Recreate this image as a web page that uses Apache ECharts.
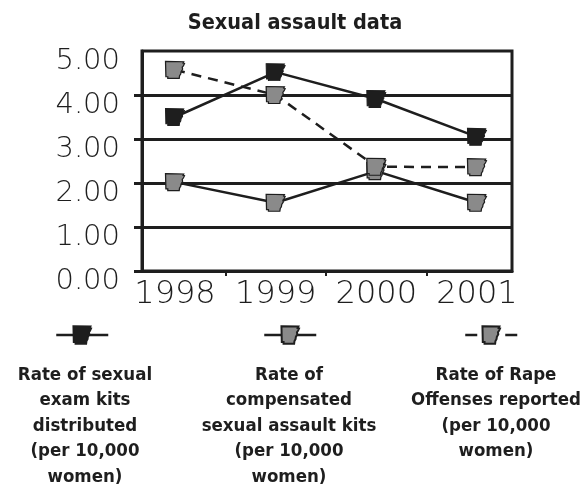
<!DOCTYPE html>
<html>
<head>
<meta charset="utf-8">
<script src="https://cdn.jsdelivr.net/npm/echarts@6/dist/echarts.min.js"></script>
<style>
  html, body { margin: 0; padding: 0; background: #fff; }
  #chart { width: 581px; height: 485px; }
</style>
</head>
<body>
<div id="chart"></div>
<script>
// 数据
var years = [1998, 1999, 2000, 2001];
var examKits = [3.50, 4.52, 3.91, 3.05];
var compensatedKits = [2.02, 1.55, 2.27, 1.55];
var rapeOffenses = [4.57, 4.00, 2.37, 2.36];
var yTicks = [0, 1, 2, 3, 4];
var xTicks = [1998.5, 1999.5, 2000.5];

var seriesNames = [
    'Rate of sexual\nexam kits\ndistributed\n(per 10,000\nwomen)',
    'Rate of\ncompensated\nsexual assault kits\n(per 10,000\nwomen)',
    'Rate of Rape\nOffenses reported\n(per 10,000\nwomen)'
];

function pairs(vals) {
    var out = [];
    for (var i = 0; i < years.length; i++) {
        out.push([years[i], vals[i]]);
    }
    return out;
}

// arkansas-ish marker
var arkansas = 'path://M0,0L96,2L92,10L100,12L94,26L88,34L90,46L82,60L80,74L74,84L72,100L12,100L12,90L2,90Z';
var ink = '#1e1e1e';
var grey = '#8a8a8a';
var boldFont = "'Liberation Sans Narrow', 'DejaVu Sans Condensed', sans-serif";
var thinFont = "'DejaVu Sans', sans-serif";

var chart = echarts.init(document.getElementById('chart'));

var legendCenters = [80, 284, 491];
var titles = [{
    text: 'Sexual assault data',
    left: 290,
    top: 7,
    textAlign: 'center',
    textStyle: { fontFamily: boldFont, fontWeight: 'bold', fontSize: 21.5, color: ink }
}];
for (var k = 0; k < 3; k++) {
    titles.push({
        text: seriesNames[k],
        left: legendCenters[k],
        top: 357,
        textAlign: 'center',
        textStyle: { fontFamily: boldFont, fontWeight: 'bold', fontSize: 18.5, lineHeight: 25.5, color: ink }
    });
}

var legendCentersIcon = [81, 289, 490];
var legends = [];
for (var j = 0; j < 3; j++) {
    legends.push({
        data: [seriesNames[j]],
        left: legendCentersIcon[j] - 26,
        top: 324,
        itemWidth: 52,
        itemHeight: 22,
        padding: 0,
        selectedMode: false,
        formatter: function () { return ''; },
        lineStyle: { color: ink, width: 2.5, type: j === 2 ? [12, 28] : 'solid' }
    });
}

chart.setOption({
    animation: false,
    title: titles,
    legend: legends,
    grid: {
        left: 142, right: 69, top: 51, bottom: 214,
        show: true, borderColor: ink, borderWidth: 3
    },
    xAxis: {
        type: 'value',
        min: 1997.672,
        max: 2001.348,
        axisLine: { show: true, lineStyle: { color: ink, width: 3 } },
        axisTick: { show: true, customValues: xTicks, length: 5, lineStyle: { color: ink, width: 2 } },
        axisLabel: {
            customValues: years,
            formatter: function (v) { return String(v); },
            fontFamily: thinFont, fontWeight: 200, fontSize: 32, color: ink, margin: 8
        },
        splitLine: { show: false }
    },
    yAxis: {
        type: 'value',
        min: 0,
        max: 5,
        interval: 1,
        axisLine: { show: true, lineStyle: { color: ink, width: 3 } },
        axisTick: { show: true, customValues: yTicks, length: 8, lineStyle: { color: ink, width: 3 } },
        axisLabel: {
            formatter: function (v) { return v.toFixed(2); },
            fontFamily: thinFont, fontWeight: 200, fontSize: 29, color: ink,
            margin: 22, verticalAlign: 'top', lineHeight: 20
        },
        splitLine: { show: true, lineStyle: { color: ink, width: 3 } }
    },
    series: [
        {
            name: seriesNames[0],
            type: 'line',
            data: pairs(examKits),
            symbol: arkansas,
            symbolSize: [19, 17],
            lineStyle: { color: ink, width: 2.5 },
            itemStyle: { color: ink, borderColor: ink, borderWidth: 1 },
            z: 3
        },
        {
            name: seriesNames[1],
            type: 'line',
            data: pairs(compensatedKits),
            symbol: arkansas,
            symbolSize: [19, 17],
            lineStyle: { color: ink, width: 2.5 },
            itemStyle: { color: grey, borderColor: ink, borderWidth: 1.2 },
            z: 4
        },
        {
            name: seriesNames[2],
            type: 'line',
            data: pairs(rapeOffenses),
            symbol: arkansas,
            symbolSize: [19, 17],
            lineStyle: { color: ink, width: 2.5, type: [10, 7] },
            itemStyle: { color: grey, borderColor: ink, borderWidth: 1.2 },
            z: 5
        }
    ]
});
</script>
</body>
</html>
